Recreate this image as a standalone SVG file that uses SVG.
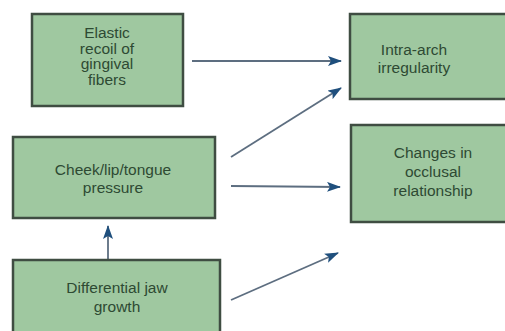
<svg xmlns="http://www.w3.org/2000/svg" width="505" height="331" viewBox="0 0 505 331">
<style>
.box{fill:#9fc8a0;stroke:#3f4d42;stroke-width:2.5}
.t{font-family:"Liberation Sans",Arial,sans-serif;font-size:15.5px;fill:#2e4a33;text-anchor:middle}
.c{stroke:#5d6e80;stroke-width:1.8;fill:none;marker-end:url(#ah)}
</style>
<defs>
<marker id="ah" viewBox="0 0 14 10" refX="13" refY="5" markerWidth="14" markerHeight="10" markerUnits="userSpaceOnUse" orient="auto">
<path d="M0,0 L14,5 L0,10 L3,5 Z" fill="#1f4f7d"/>
</marker>
</defs>
<rect width="505" height="331" fill="#ffffff"/>
<g id="connectors">
<line class="c" x1="192" y1="61" x2="341" y2="61"/>
<line class="c" x1="231" y1="157" x2="341" y2="88"/>
<line class="c" x1="231" y1="186" x2="340" y2="187"/>
<line class="c" x1="231" y1="300" x2="338" y2="253"/>
<line class="c" x1="108" y1="260" x2="108" y2="226"/>
</g>
<g id="elastic">
<rect class="box" x="32" y="14" width="151" height="92"/>
<text class="t" x="107" y="38">Elastic</text>
<text class="t" x="107" y="53.5">recoil of</text>
<text class="t" x="107" y="69">gingival</text>
<text class="t" x="107" y="84.5">fibers</text>
</g>
<g id="intra">
<rect class="box" x="350" y="14" width="160" height="85"/>
<text class="t" x="414" y="55">Intra-arch</text>
<text class="t" x="414" y="73">irregularity</text>
</g>
<g id="cheek">
<rect class="box" x="13" y="137" width="202" height="81"/>
<text class="t" x="113" y="175">Cheek/lip/tongue</text>
<text class="t" x="113" y="193">pressure</text>
</g>
<g id="changes">
<rect class="box" x="351" y="125" width="160" height="97"/>
<text class="t" x="433" y="158">Changes in</text>
<text class="t" x="433" y="177">occlusal</text>
<text class="t" x="433" y="196">relationship</text>
</g>
<g id="differential">
<rect class="box" x="13" y="260" width="207" height="80"/>
<text class="t" x="117" y="293">Differential jaw</text>
<text class="t" x="117" y="312">growth</text>
</g>
</svg>
